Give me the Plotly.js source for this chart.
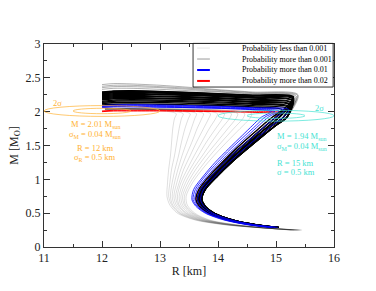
<!DOCTYPE html>
<html>
<head>
<meta charset="utf-8">
<script src="https://cdn.plot.ly/plotly-3.0.1.min.js"></script>
<style>html,body{margin:0;padding:0;background:#fff;}#chart{width:376px;height:291px;}</style>
</head>
<body>
<div id="chart"></div>
<script>
// ---------- data ----------
// rising branch of the main cluster: mass levels and radius of each cluster line
const riseM = [0.29,0.33,0.40,0.50,0.60,0.70,0.85,1.05,1.25,1.45,1.65,1.80,1.92];
const clusterR = [
  [14.90,14.50,14.10,13.78,13.62,13.55,13.58,13.75,13.95,14.18,14.42,14.60,14.75],
  [14.92,14.52,14.12,13.80,13.64,13.57,13.61,13.78,13.99,14.22,14.47,14.66,14.81],
  [14.94,14.54,14.14,13.82,13.66,13.60,13.64,13.82,14.03,14.27,14.52,14.71,14.87],
  [14.96,14.56,14.16,13.84,13.68,13.62,13.67,13.85,14.07,14.31,14.57,14.77,14.94],
  [14.99,14.59,14.19,13.87,13.71,13.65,13.70,13.89,14.11,14.36,14.63,14.83,15.00],
  [15.01,14.61,14.21,13.89,13.73,13.67,13.72,13.92,14.15,14.41,14.68,14.89,15.06],
  [15.03,14.63,14.23,13.91,13.76,13.70,13.75,13.96,14.19,14.45,14.73,14.94,15.13],
  [15.05,14.65,14.25,13.93,13.78,13.72,13.78,13.99,14.23,14.50,14.78,15.00,15.19]
];
// upper (maximum-mass) branch radii
const topR = [14.6,14.0,13.5,13.0,12.5,12.2,12.0];

// low-probability fan on the left
const fanM = [0.25,0.28,0.33,0.40,0.50,0.62,0.75,0.95,1.15,1.35,1.55,1.75,1.90,1.97,2.02,2.04,2.04];
const fanR = [
  [15.45,14.80,14.10,13.60,13.30,13.17,13.12,13.13,13.15,13.18,13.20,13.22,13.25,13.28,12.95,12.60,12.05],
  [15.43,14.80,14.12,13.62,13.33,13.20,13.15,13.17,13.20,13.25,13.29,13.33,13.37,13.40,13.07,12.60,12.05],
  [15.41,14.81,14.14,13.65,13.35,13.22,13.18,13.21,13.26,13.32,13.37,13.43,13.49,13.52,13.19,12.60,12.05],
  [15.40,14.81,14.15,13.67,13.38,13.25,13.21,13.25,13.31,13.38,13.46,13.54,13.60,13.63,13.30,12.60,12.05],
  [15.38,14.82,14.17,13.69,13.41,13.28,13.24,13.29,13.36,13.45,13.55,13.64,13.72,13.75,13.42,12.60,12.05],
  [15.36,14.82,14.19,13.71,13.44,13.31,13.27,13.33,13.41,13.52,13.63,13.75,13.84,13.87,13.54,12.60,12.05],
  [15.34,14.83,14.21,13.74,13.46,13.33,13.30,13.36,13.47,13.59,13.72,13.85,13.96,13.99,13.66,12.60,12.05],
  [15.32,14.83,14.23,13.76,13.49,13.36,13.33,13.40,13.52,13.66,13.80,13.96,14.08,14.11,13.78,12.60,12.05],
  [15.31,14.84,14.25,13.78,13.52,13.39,13.36,13.44,13.57,13.73,13.89,14.06,14.20,14.23,13.90,12.60,12.05],
  [15.29,14.84,14.26,13.80,13.55,13.42,13.39,13.48,13.62,13.79,13.98,14.17,14.31,14.34,14.01,12.60,12.05],
  [15.27,14.85,14.28,13.83,13.57,13.44,13.42,13.52,13.68,13.86,14.06,14.27,14.43,14.46,14.13,12.60,12.05],
  [15.25,14.85,14.30,13.85,13.60,13.47,13.45,13.56,13.73,13.93,14.15,14.38,14.55,14.58,14.25,12.60,12.05]
];

// haze (probability < 0.001) above the band
const hazeRise = [7,7,6,7];
const hazeApexR = [15.33,15.35,15.37,15.38];
const hazeApexM = [2.22,2.23,2.24,2.25];
const hazeTopM = [
  [2.26,2.29,2.31,2.33,2.345,2.345,2.33],
  [2.27,2.30,2.33,2.355,2.37,2.37,2.355],
  [2.28,2.315,2.345,2.37,2.39,2.39,2.375],
  [2.29,2.325,2.36,2.39,2.41,2.415,2.40]
];

// probability > 0.001
const blackRise = [3,4,5,6,7,7,6,5,7,6,7,5,7,4];
const blackApexR = [15.10,15.17,15.20,15.22,15.25,15.26,15.26,15.27,15.28,15.28,15.29,15.29,15.30,15.30];
const blackApexM = [2.03,2.05,2.07,2.08,2.10,2.11,2.13,2.14,2.16,2.17,2.19,2.20,2.21,2.22];
const blackTopM = [
  [2.07,2.09,2.10,2.11,2.115,2.11,2.10],
  [2.09,2.11,2.125,2.135,2.14,2.135,2.12],
  [2.11,2.13,2.145,2.155,2.16,2.155,2.14],
  [2.12,2.145,2.16,2.17,2.175,2.17,2.155],
  [2.14,2.165,2.18,2.19,2.195,2.19,2.175],
  [2.15,2.175,2.19,2.20,2.21,2.205,2.19],
  [2.17,2.195,2.21,2.22,2.225,2.22,2.205],
  [2.18,2.205,2.22,2.23,2.24,2.235,2.22],
  [2.20,2.225,2.24,2.25,2.255,2.25,2.235],
  [2.21,2.235,2.25,2.26,2.27,2.265,2.25],
  [2.22,2.245,2.26,2.275,2.285,2.28,2.265],
  [2.235,2.255,2.27,2.285,2.295,2.29,2.275],
  [2.24,2.26,2.28,2.295,2.305,2.30,2.285],
  [2.245,2.265,2.285,2.30,2.31,2.305,2.29]
];

// probability > 0.01
const blueRise = [0,1,2,4,6];
const blueApexR = [14.92,14.98,15.05,15.15,15.22];
const blueApexM = [2.00,2.00,2.01,2.02,2.03];
const blueTopM = [
  [2.03,2.05,2.06,2.065,2.07,2.07,2.06],
  [2.03,2.05,2.06,2.07,2.075,2.075,2.065],
  [2.04,2.06,2.07,2.08,2.085,2.085,2.075],
  [2.05,2.07,2.08,2.09,2.095,2.09,2.08],
  [2.06,2.08,2.09,2.10,2.105,2.10,2.09]
];

// probability > 0.02
const redRise = [3,5];
const redApexR = [15.03,15.12];
const redApexM = [1.97,1.98];
const redTopM = [
  [1.99,2.00,2.005,2.01,2.01,2.01,2.00],
  [2.00,2.01,2.015,2.02,2.02,2.02,2.01]
];

// observational constraints
const obsR = [12, 15];
const obsM = [2.01, 1.94];
const obsSigR = [0.5, 0.5];
const obsSigM = [0.04, 0.04];
const orangeText = ['M = 2.01 M<sub>sun</sub>','σ<sub>M</sub> = 0.04 M<sub>sun</sub>','R = 12 km','σ<sub>R</sub> = 0.5 km'];
const cyanText = ['M = 1.94 M<sub>sun</sub>','σ<sub>M</sub>= 0.04 M<sub>sun</sub>','R = 15 km','σ = 0.5 km'];

const legendLabels = ['Probability less than 0.001','Probability more than 0.001','Probability more than 0.01','Probability more than 0.02'];

const xTicks = [11,12,13,14,15,16];
const yTicks = [0,0.5,1,1.5,2,2.5,3];

// ---------- build ----------
const SERIF = 'Liberation Serif, Times New Roman, serif';
const ORANGE = '#ffb233';
const CYAN = '#45e3d3';
const traces = [];
function line(x, y, color, width) {
  traces.push({x: x, y: y, type: 'scatter', mode: 'lines', showlegend: false, hoverinfo: 'skip',
    line: {color: color, width: width, shape: 'spline', smoothing: 0.8}});
}
function branch(rise, apexR, apexM, topM, color, width) {
  for (let i = 0; i < rise.length; i++) {
    line(clusterR[rise[i]].concat([apexR[i]], topR), riseM.concat([apexM[i]], topM[i]), color, width);
  }
}
const LOW = 'rgba(0,0,0,0.22)';
fanR.forEach(r => line(r, fanM, LOW, 0.6));
branch(hazeRise, hazeApexR, hazeApexM, hazeTopM, 'rgba(0,0,0,0.3)', 1.0);
branch(redRise, redApexR, redApexM, redTopM, '#ff0000', 1.0);
branch(blackRise, blackApexR, blackApexM, blackTopM, '#000000', 1.4);
branch(blueRise, blueApexR, blueApexM, blueTopM, '#0000ff', 0.8);

const shapes = [];
const colors = [ORANGE, CYAN];
for (let i = 0; i < obsR.length; i++) {
  [1, 2].forEach(k => shapes.push({type: 'circle', xref: 'x', yref: 'y', layer: 'above',
    x0: obsR[i] - k * obsSigR[i], x1: obsR[i] + k * obsSigR[i],
    y0: obsM[i] - k * obsSigM[i], y1: obsM[i] + k * obsSigM[i],
    line: {color: colors[i], width: 0.7}}));
}

// custom legend (paper coordinates)
const legColors = ['#e6e6e6', '#999999', '#0000ff', '#ff0000'];
const legWidths = [1, 1, 2, 2];
const legY = [0.980, 0.926, 0.872, 0.818];
shapes.push({type: 'rect', xref: 'paper', yref: 'paper', x0: 0.514, x1: 0.997, y0: 0.788, y1: 1.003,
  line: {color: '#000', width: 0.8}, fillcolor: '#fff', layer: 'above'});
const annotations = [];
legendLabels.forEach((t, i) => {
  shapes.push({type: 'line', xref: 'paper', yref: 'paper', x0: 0.528, x1: 0.572, y0: legY[i], y1: legY[i],
    line: {color: legColors[i], width: legWidths[i]}, layer: 'above'});
  annotations.push({xref: 'paper', yref: 'paper', x: 0.676, y: legY[i], xanchor: 'left', yanchor: 'middle',
    text: t, showarrow: false, font: {family: SERIF, size: 8, color: '#000'}});
});

const orangeY = [1.81, 1.665, 1.465, 1.33];
orangeText.forEach((t, i) => annotations.push({x: 11.88, y: orangeY[i], xref: 'x', yref: 'y', text: t,
  showarrow: false, xanchor: 'center', yanchor: 'middle', font: {family: SERIF, size: 8.5, color: ORANGE}}));
const cyanY = [1.63, 1.485, 1.245, 1.11];
cyanText.forEach((t, i) => annotations.push({x: 14.98, y: cyanY[i], xref: 'x', yref: 'y', text: t,
  showarrow: false, xanchor: 'left', yanchor: 'middle', font: {family: SERIF, size: 8.5, color: CYAN}}));
annotations.push({x: 11.23, y: 2.13, xref: 'x', yref: 'y', text: '2σ', showarrow: false,
  font: {family: SERIF, size: 8.5, color: ORANGE}});
annotations.push({x: 15.75, y: 2.05, xref: 'x', yref: 'y', text: '2σ', showarrow: false,
  font: {family: SERIF, size: 8.5, color: CYAN}});

const axisCommon = {showgrid: false, zeroline: false, showline: true, linecolor: '#333', linewidth: 1,
  mirror: 'allticks', ticks: 'inside', ticklen: 6, tickwidth: 1, tickcolor: '#333',
  tickfont: {family: SERIF, size: 12, color: '#222'}};

const layout = {
  width: 376, height: 291,
  margin: {l: 44, r: 42, t: 44, b: 44},
  paper_bgcolor: '#fff', plot_bgcolor: '#fff',
  showlegend: false,
  xaxis: Object.assign({}, axisCommon, {range: [11, 16], tickvals: xTicks, ticktext: xTicks.map(String),
    minor: {dtick: 0.5, ticklen: 3, tickcolor: '#333', ticks: 'inside'},
    title: {text: 'R [km]', font: {family: SERIF, size: 12, color: '#222'}, standoff: 2}}),
  yaxis: Object.assign({}, axisCommon, {range: [0, 3], tickvals: yTicks, ticktext: yTicks.map(String),
    minor: {dtick: 0.25, ticklen: 3, tickcolor: '#333', ticks: 'inside'},
    title: {text: 'M [M<sub>O</sub>]', font: {family: SERIF, size: 12, color: '#222'}, standoff: 4}}),
  shapes: shapes,
  annotations: annotations
};

Plotly.newPlot('chart', traces, layout, {staticPlot: true, displayModeBar: false});
</script>
</body>
</html>
